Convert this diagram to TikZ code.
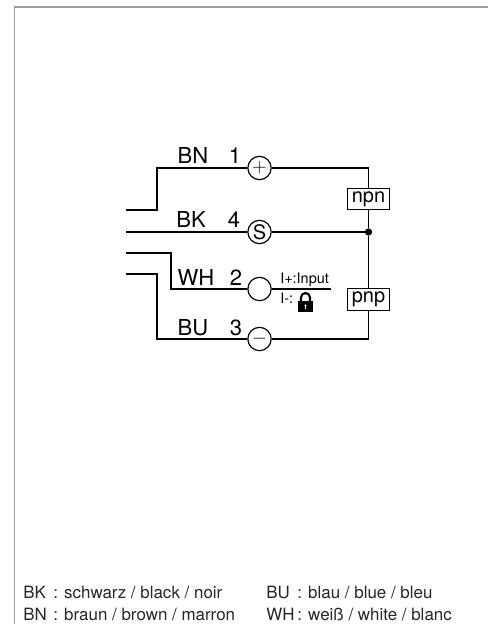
\documentclass[tikz,border=0pt]{standalone}
\usepackage{fontspec}
\setmainfont{TeX Gyre Heros}
\usetikzlibrary{positioning,calc}

\tikzset{
	terminal/.style={circle, draw, line width=0.9pt, fill=white, minimum size=17.5pt, inner sep=0pt, font=\fontsize{15}{15}\selectfont},
	mode box/.style={rectangle, draw, line width=0.8pt, fill=white, minimum width=31.5pt, minimum height=16pt, inner sep=0pt, font=\fontsize{15}{15}\selectfont},
	wire label/.style={anchor=base, inner sep=0pt, font=\fontsize{16.5}{16.5}\selectfont},
	small label/.style={anchor=base west, inner sep=0pt, font=\fontsize{10.8}{10.8}\selectfont},
	legend label/.style={anchor=base west, inner sep=0pt, text=black!85, font=\fontsize{12.7}{13}\selectfont},
	wire/.style={line width=0.8pt}
}

\begin{document}
\begin{tikzpicture}[x=0.75pt, y=-0.75pt]
	\useasboundingbox (0,0) rectangle (488,624);
	
	% page frame
	\coordinate (frame-start) at (488,7);
	\coordinate (frame-corner) at (14.5,7);
	\coordinate (frame-end) at (14.5,624);
	\draw [black!38, line width=0.9pt] (frame-start) -- (frame-corner) -- (frame-end);
	
	% terminals
	\foreach \n/\s/\y in {1/$+$/168, 4/S/232, 2/{}/289, 3/$-$/339}
	\node [terminal] (term-\n) at (259.5,\y) {\s};
	
	% free cable ends
	\foreach \n/\y in {1/210, 4/232, 2/253, 3/274}
	\coordinate (cable-\n) at (126,\y);
	\coordinate (input-end) at (331,289);
	
	% output stages
	\node [mode box] (npn) at (368.5,199) {npn};
	\node [mode box] (pnp) at (368.5,299.5) {pnp};
	\node [circle, fill, minimum size=5.5pt, inner sep=0pt] (junction) at (368.5,232) {};
	
	% wires
	\draw [wire] (cable-1) -- ++(31,0) |- (term-1);
	\draw [wire] (cable-4) -- (term-4);
	\draw [wire] (cable-2) -- ++(45,0) |- (term-2);
	\draw [wire] (cable-3) -- ++(31,0) |- (term-3);
	\draw [wire] (term-1) -| (npn);
	\draw [wire] (npn) -- (junction);
	\draw [wire] (term-4) -- (junction);
	\draw [wire] (junction) -- (pnp);
	\draw [wire] (term-3) -| (pnp);
	\draw [wire] (term-2) -- (input-end);
	
	% wire names and pin numbers
	\foreach \t/\n/\x/\y/\p/\q in {BN/1/193/164/235/164, BK/4/191/227/234/227, WH/2/196/285/236/285, BU/3/193/335/236/335} {
		\node [wire label] (name-\n) at (\x,\y) {\t};
		\node [wire label] (pin-\n) at (\p,\q) {\n};
	}
	
	% input note
	\node [small label] (input-high) at (280,283) {I+:Input};
	\node [small label] (input-low) at (280,303) {I-:};
	
	% padlock
	\fill (298,301) rectangle (313,311.5);
	\draw [line width=1.6pt] (301,302) -- (301,297.5) arc (180:360:4.5) -- (310,302);
	\fill [white] (305.5,305.5) circle (1.1);
	\fill [white] (305,305.5) rectangle (306,308.5);
	
	% colour legend
	\foreach \t/\x/\y in {BK/23/598, BN/23/620, BU/266/598, WH/266/620}
	\node [legend label] (key-\t) at (\x,\y) {\t};
	
	\foreach \t/\x/\y in {{: schwarz / black / noir}/53/598, {: braun / brown / marron}/53/620, {: blau / blue / bleu}/297/598, {: weiß / white / blanc}/297/620}
	\node [legend label] at (\x,\y) {\t};
	
\end{tikzpicture}
\end{document}
